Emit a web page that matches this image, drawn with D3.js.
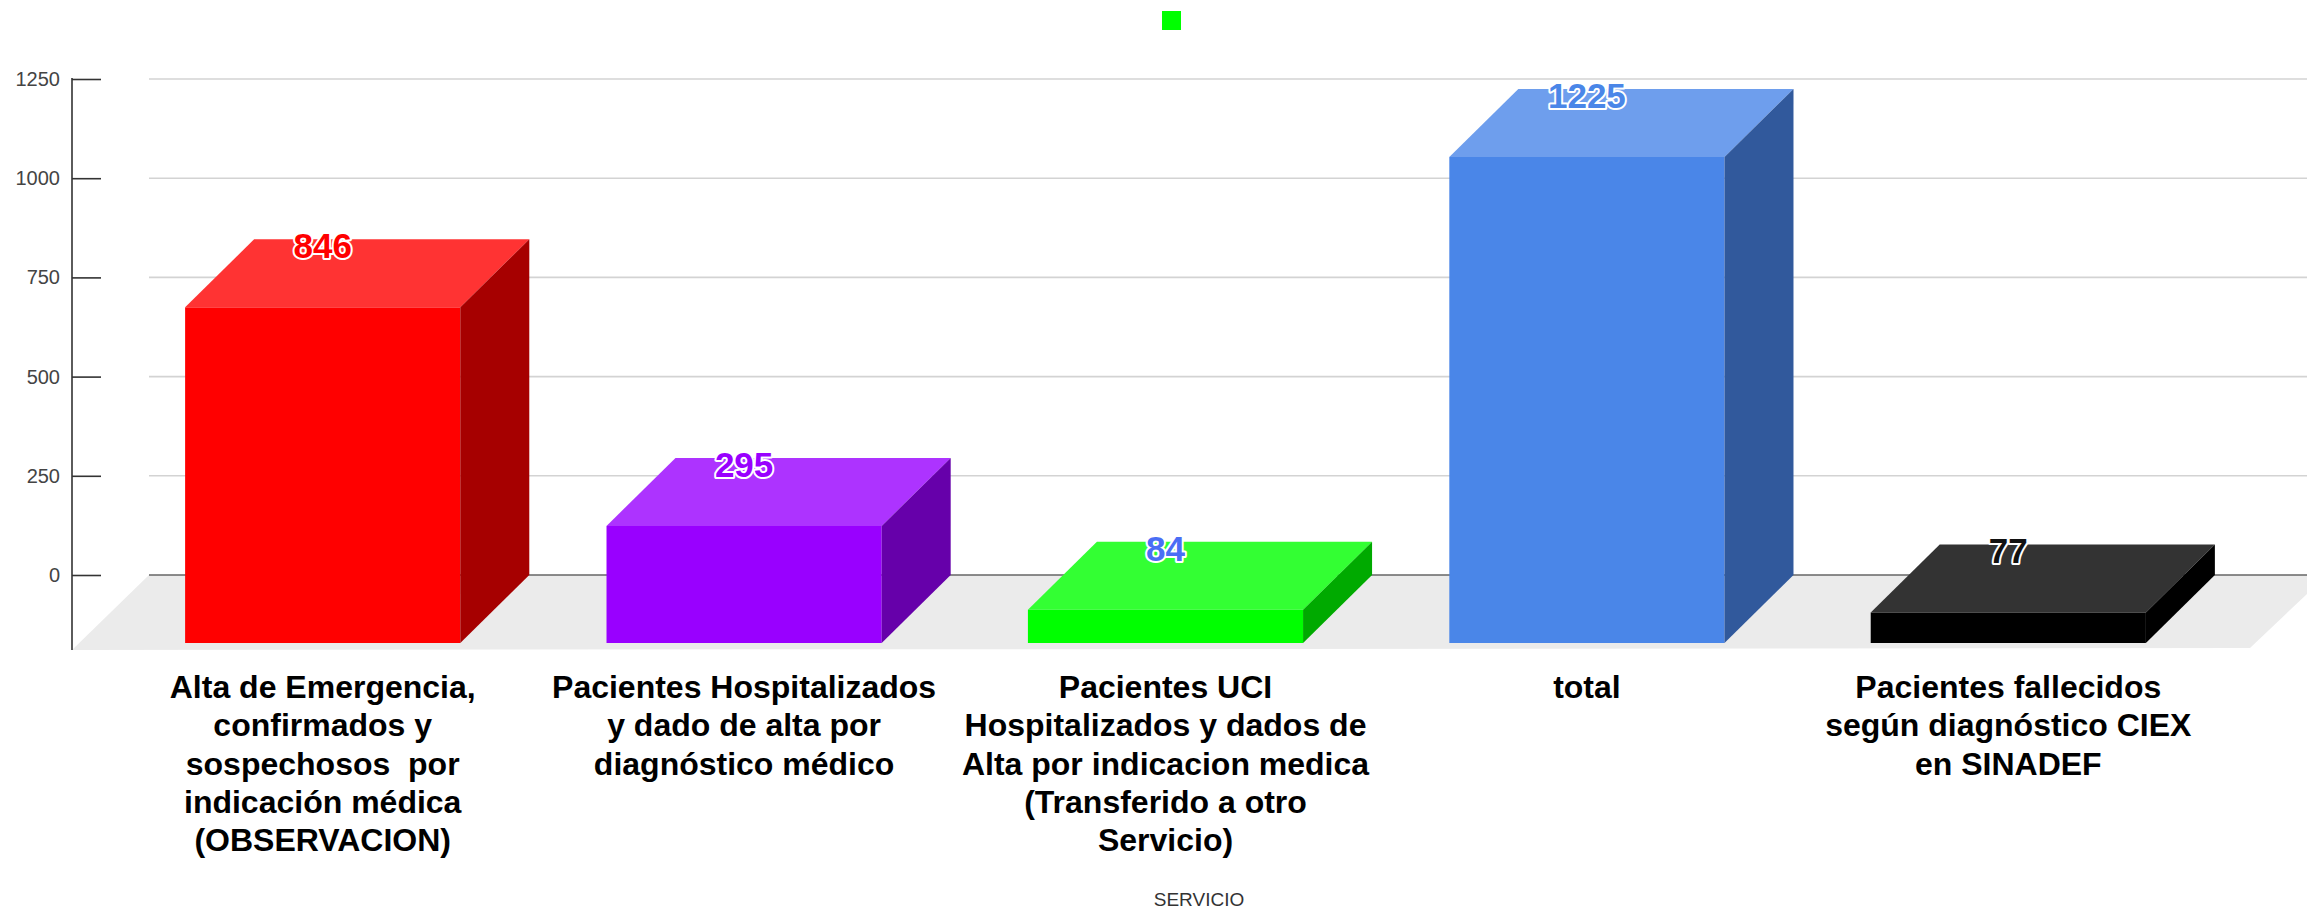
<!DOCTYPE html>
<html>
<head>
<meta charset="utf-8">
<script src="https://cdn.jsdelivr.net/npm/d3@7"></script>
<style>
  html, body { margin: 0; padding: 0; background: #ffffff; }
  svg { display: block; }
  text { font-family: "Liberation Sans", Arial, sans-serif; }
</style>
</head>
<body>
<svg id="chart" width="2307" height="909"></svg>
<script>
// ---- data ----
const categories = [
  "Alta de Emergencia, confirmados y sospechosos  por indicación médica (OBSERVACION)",
  "Pacientes Hospitalizados y dado de alta por diagnóstico médico",
  "Pacientes UCI Hospitalizados y dados de Alta por indicacion medica (Transferido a otro Servicio)",
  "total",
  "Pacientes fallecidos según diagnóstico CIEX en SINADEF"
];
const categoryLines = [
  ["Alta de Emergencia,", "confirmados y", "sospechosos  por", "indicación médica", "(OBSERVACION)"],
  ["Pacientes Hospitalizados", "y dado de alta por", "diagnóstico médico"],
  ["Pacientes UCI", "Hospitalizados y dados de", "Alta por indicacion medica", "(Transferido a otro", "Servicio)"],
  ["total"],
  ["Pacientes fallecidos", "según diagnóstico CIEX", "en SINADEF"]
];
const values = [846, 295, 84, 1225, 77];
const yTicks = [0, 250, 500, 750, 1000, 1250];
const xAxisTitle = "SERVICIO";

// ---- palette ----
const frontColors = ["#ff0000", "#9900ff", "#00ff00", "#4a86e8", "#000000"];
const topColors   = ["#ff3333", "#ad33ff", "#33ff33", "#6e9eed", "#333333"];
const sideColors  = ["#a60000", "#6600aa", "#00aa00", "#31599c", "#000000"];
const labelColors = ["#ff0000", "#9900ff", "#4a6ef5", "#4a86e8", "#111111"];

// ---- layout ----
const svg = d3.select("#chart");
const depthX = 69, depthY = 68;
const axisX = 72;
const gridX0 = 149, gridX1 = 2307;

const y = d3.scaleLinear().domain([0, 1250]).range([575, 79]);
const x = d3.scaleBand().domain(categories).range([112, 2219])
  .paddingInner(0.347).paddingOuter(0.1735);
const bw = x.bandwidth();
const y0 = y(0);

// gridlines (back plane)
svg.append("g").selectAll("line").data(yTicks.filter(t => t !== 0)).join("line")
  .attr("x1", gridX0).attr("x2", gridX1)
  .attr("y1", d => y(d)).attr("y2", d => y(d))
  .attr("stroke", "#d3d3d3").attr("stroke-width", 1.6);

// floor
const floorFrontY = y0 + 75;
svg.append("path")
  .attr("d", `M${axisX},${floorFrontY} L${axisX + 77},${y0} L${2250 + 77},${y0} L2250,${floorFrontY - 2} Z`)
  .attr("fill", "#ebebeb");

// zero line
svg.append("line")
  .attr("x1", gridX0).attr("x2", gridX1).attr("y1", y0).attr("y2", y0)
  .attr("stroke", "#666666").attr("stroke-width", 1.6);

// y axis
const yAxis = d3.axisLeft(y).tickValues(yTicks).tickFormat(d3.format("d")).tickSize(0).tickPadding(12);
const gAxis = svg.append("g").attr("transform", `translate(${axisX},0)`).call(yAxis);
gAxis.select(".domain").remove();
gAxis.selectAll("text")
  .attr("font-size", 20).attr("fill", "#444444")
  .attr("font-family", "'Liberation Sans', Arial, sans-serif");
gAxis.selectAll(".tick").append("line")
  .attr("x1", 0).attr("x2", 29).attr("y1", 0).attr("y2", 0)
  .attr("stroke", "#333333").attr("stroke-width", 1.6);
svg.append("line")
  .attr("x1", axisX).attr("x2", axisX).attr("y1", y(1250) - 1).attr("y2", floorFrontY)
  .attr("stroke", "#333333").attr("stroke-width", 1.6);

// bars
const bars = svg.append("g").selectAll("g").data(values).join("g");
bars.each(function(v, i) {
  const g = d3.select(this);
  const x0 = x(categories[i]), x1 = x0 + bw;
  const yb = y(v), yf = yb + depthY;
  const bottomF = y0 + depthY;
  g.append("rect").attr("x", x0).attr("y", yf).attr("width", bw).attr("height", bottomF - yf)
    .attr("fill", frontColors[i]);
  g.append("path").attr("d", `M${x0},${yf} L${x0 + depthX},${yb} L${x1 + depthX},${yb} L${x1},${yf} Z`)
    .attr("fill", topColors[i]);
  g.append("path").attr("d", `M${x1},${yf} L${x1 + depthX},${yb} L${x1 + depthX},${y0} L${x1},${bottomF} Z`)
    .attr("fill", sideColors[i]);
});

// value labels
svg.append("g").selectAll("text").data(values).join("text")
  .attr("x", (d, i) => x(categories[i]) + bw / 2)
  .attr("y", d => y(d) + 19)
  .attr("text-anchor", "middle")
  .attr("font-size", 35).attr("font-weight", "bold")
  .attr("fill", (d, i) => labelColors[i])
  .attr("stroke", "#ffffff").attr("stroke-width", 4).attr("stroke-linejoin", "round")
  .attr("paint-order", "stroke")
  .text(d => d);

// category labels
const lab = svg.append("g").selectAll("text").data(categories).join("text")
  .attr("text-anchor", "middle")
  .attr("font-size", 32).attr("font-weight", "bold").attr("fill", "#000000")
  .style("white-space", "pre");
lab.each(function(c, i) {
  const t = d3.select(this);
  const cx = x(c) + bw / 2;
  categoryLines[i].forEach((line, k) => {
    t.append("tspan").attr("x", cx).attr("y", 698 + k * 38.3).text(line);
  });
});

// x axis title
svg.append("text").attr("x", 1199).attr("y", 906).attr("text-anchor", "middle")
  .attr("font-size", 19).attr("fill", "#333333").text(xAxisTitle);

// legend (single swatch, no text)
svg.append("rect").attr("x", 1162).attr("y", 11).attr("width", 19).attr("height", 19)
  .attr("fill", frontColors[2]);
</script>
</body>
</html>
